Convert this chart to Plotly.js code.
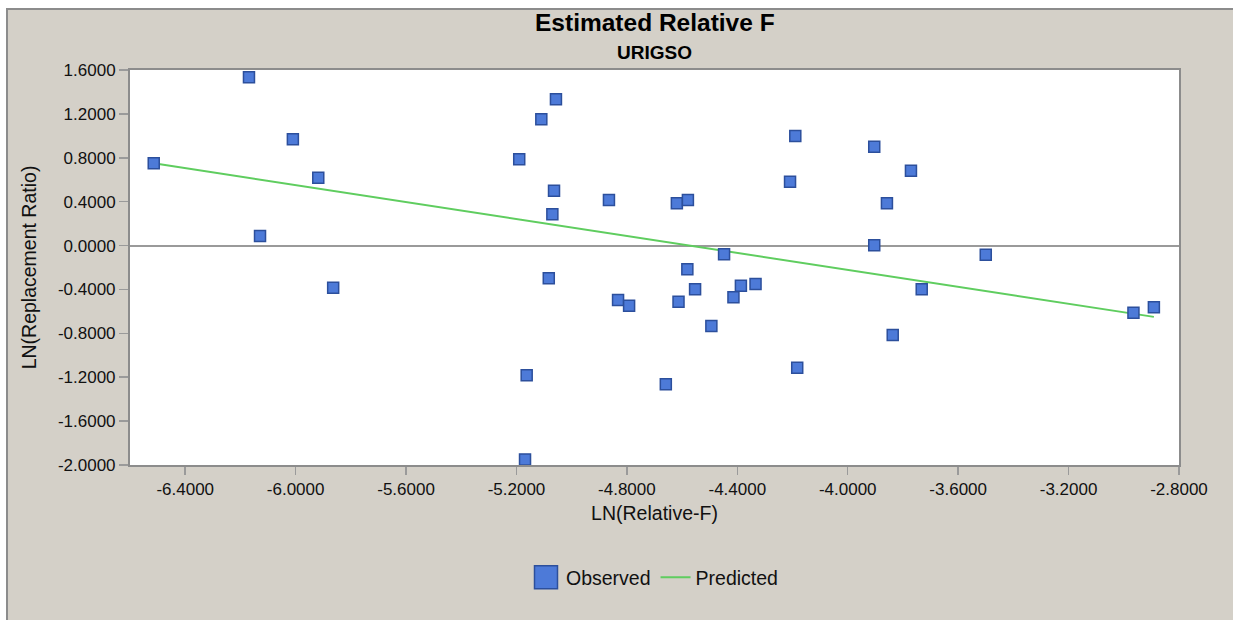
<!DOCTYPE html>
<html>
<head>
<meta charset="utf-8">
<script src="https://cdn.plot.ly/plotly-3.0.1.min.js"></script>
<style>
  html, body { margin: 0; padding: 0; background: #ffffff; }
  #frame { position: absolute; left: 6px; top: 8px; width: 1227px; height: 612px;
           background: #d4d0c8; border-top: 2px solid #8c8c8c; border-left: 2px solid #8c8c8c; box-sizing: border-box; }
  #chart { position: absolute; left: 0; top: 0; width: 1233px; height: 620px; }
</style>
</head>
<body>
<div id="frame"></div>
<div id="chart"></div>
<script>
// Observed data: LN(Relative-F) vs LN(Replacement Ratio)
const obsX = [-6.514, -6.169, -6.010, -5.918, -6.129, -5.864, -5.057, -5.110, -5.190, -5.064,
              -5.070, -4.865, -4.619, -4.579, -4.190, -4.209, -4.448, -4.581, -5.083, -4.553,
              -4.387, -4.334, -4.414, -4.613, -4.832, -4.792, -4.494, -4.659, -4.183, -3.904,
              -3.837, -3.904, -3.771, -3.858, -3.500, -3.732, -2.965, -2.891, -5.163, -5.169];
const obsY = [0.749, 1.533, 0.968, 0.618, 0.087, -0.384, 1.333, 1.151, 0.786, 0.500,
              0.285, 0.415, 0.385, 0.415, 0.998, 0.582, -0.080, -0.217, -0.299, -0.399,
              -0.366, -0.351, -0.472, -0.512, -0.497, -0.549, -0.734, -1.265, -1.114, 0.002,
              -0.816, 0.901, 0.682, 0.385, -0.084, -0.399, -0.612, -0.563, -1.183, -1.949];
// Predicted (fitted) line end points
const predX = [-6.514, -2.891];
const predY = [0.750, -0.650];

const xTicks = [-6.4, -6.0, -5.6, -5.2, -4.8, -4.4, -4.0, -3.6, -3.2, -2.8];
const xTickText = ["-6.4000", "-6.0000", "-5.6000", "-5.2000", "-4.8000", "-4.4000", "-4.0000", "-3.6000", "-3.2000", "-2.8000"];
const yTicks = [1.6, 1.2, 0.8, 0.4, 0.0, -0.4, -0.8, -1.2, -1.6, -2.0];
const yTickText = ["1.6000", "1.2000", "0.8000", "0.4000", "0.0000", "-0.4000", "-0.8000", "-1.2000", "-1.6000", "-2.0000"];

const FONT = "Liberation Sans, Arial, sans-serif";

const traces = [
  {
    x: predX, y: predY, type: "scatter", mode: "lines", name: "Predicted",
    line: { color: "#5fcd5f", width: 2 }
  },
  {
    x: obsX, y: obsY, type: "scatter", mode: "markers", name: "Observed",
    marker: { symbol: "square", size: 11, color: "#4d7ad8", line: { color: "#2c4f9c", width: 1.5 } }
  }
];

const layout = {
  width: 1233, height: 620,
  paper_bgcolor: "rgba(0,0,0,0)",
  plot_bgcolor: "#ffffff",
  margin: { l: 130, r: 54, t: 70, b: 155 },
  showlegend: true,
  legend: {
    orientation: "h", x: 0.5, xanchor: "center", y: -0.285, yanchor: "middle",
    font: { family: FONT, size: 19.5, color: "#111" }, traceorder: "reversed",
    bgcolor: "rgba(0,0,0,0)", itemwidth: 30, itemsizing: "trace"
  },
  xaxis: {
    range: [-6.6, -2.8], tickvals: xTicks, ticktext: xTickText,
    showgrid: false, zeroline: false, showline: true, mirror: true,
    linecolor: "#8c8c8c", linewidth: 2,
    ticks: "outside", ticklen: 8, tickcolor: "#9a9a9a", tickwidth: 1.5,
    tickfont: { family: FONT, size: 17, color: "#111" },
    title: { text: "LN(Relative-F)", font: { family: FONT, size: 19.5, color: "#111" }, standoff: 8 }
  },
  yaxis: {
    range: [-2.0, 1.6], tickvals: yTicks, ticktext: yTickText,
    showgrid: false, zeroline: true, zerolinecolor: "#9a9a9a", zerolinewidth: 2,
    showline: true, mirror: true, linecolor: "#8c8c8c", linewidth: 2,
    ticks: "outside", ticklen: 9, tickcolor: "#9a9a9a", tickwidth: 1.5,
    tickfont: { family: FONT, size: 17, color: "#111" },
    title: { text: "LN(Replacement Ratio)", font: { family: FONT, size: 19.5, color: "#111" }, standoff: 16 }
  },
  annotations: [
    { text: "<b>Estimated Relative F</b>", xref: "paper", yref: "paper", x: 0.5, y: 1, yshift: 48,
      xanchor: "center", yanchor: "middle", showarrow: false,
      font: { family: FONT, size: 24.5, color: "#000" } },
    { text: "<b>URIGSO</b>", xref: "paper", yref: "paper", x: 0.5, y: 1, yshift: 18,
      xanchor: "center", yanchor: "middle", showarrow: false,
      font: { family: FONT, size: 19, color: "#000" } }
  ]
};

Plotly.newPlot("chart", traces, layout, { displayModeBar: false, staticPlot: true }).then(function (gd) {
  // enlarge the legend square symbol to match the reference legend
  gd.querySelectorAll(".legend .legendpoints path.scatterpts").forEach(function (p) {
    p.setAttribute("d", "M11.5,11.5H-11.5V-11.5H11.5Z");
  });
});
</script>
</body>
</html>
